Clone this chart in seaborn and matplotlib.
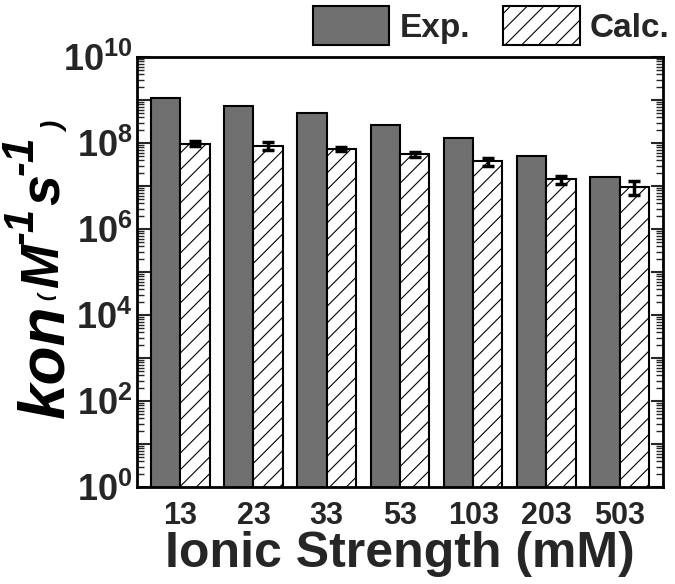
import numpy as np
import pandas as pd
import matplotlib
matplotlib.use("Agg")
import matplotlib.pyplot as plt
import matplotlib.ticker as mticker
import seaborn as sns

# values
ionic_strength = ['13', '23', '33', '53', '103', '203', '503']
exp_kon = [1.15e9, 7.2e8, 5.0e8, 2.7e8, 1.3e8, 5.0e7, 1.65e7]
calc_kon = [9.8e7, 8.7e7, 7.4e7, 5.5e7, 3.8e7, 1.45e7, 9.6e6]
calc_err = [1.2e7, 1.7e7, 8e6, 7.5e6, 8e6, 3e6, 3.4e6]
series = ['Exp.', 'Calc.']

sns.set_theme(style="white")
plt.rcParams['font.family'] = ['Liberation Sans', 'DejaVu Sans']
plt.rcParams['font.weight'] = 'bold'
plt.rcParams['mathtext.fontset'] = 'custom'
plt.rcParams['mathtext.rm'] = 'Liberation Sans:bold'
plt.rcParams['mathtext.bf'] = 'Liberation Sans:bold'
plt.rcParams['mathtext.it'] = 'Liberation Sans:bold:italic'
plt.rcParams['hatch.linewidth'] = 0.8

df = pd.DataFrame({
    'Ionic': ionic_strength * 2,
    'kon': exp_kon + calc_kon,
    'Type': [series[0]] * len(exp_kon) + [series[1]] * len(calc_kon),
})

fig = plt.figure(figsize=(6.75, 5.84), dpi=100)
ax = fig.add_axes([0.203, 0.166, 0.779, 0.736])

sns.barplot(data=df, x='Ionic', y='kon', hue='Type', order=ionic_strength,
            hue_order=series, palette=['#707070', 'white'], errorbar=None,
            edgecolor='black', linewidth=1.5, width=0.8, legend=False, ax=ax)
ax.set_yscale('log')
ax.grid(False, which='both')

for p in ax.containers[1]:
    p.set_hatch('//')

# error bars on calculated values
xs = [p.get_x() + p.get_width() / 2 for p in ax.containers[1]]
ax.errorbar(xs, calc_kon, yerr=calc_err, fmt='none', ecolor='black',
            elinewidth=2.5, capsize=4, capthick=2.5, zorder=5)

ax.set_ylim(1, 1e10)
ax.set_xlim(-0.59, 6.59)

ax.yaxis.set_major_locator(mticker.LogLocator(base=10, numticks=20))
ax.yaxis.set_minor_locator(mticker.LogLocator(base=10, subs=np.arange(2, 10), numticks=20))


def fmt(v, pos):
    e = int(round(np.log10(v)))
    return r'$\mathbf{10^{%d}}$' % e if e % 2 == 0 else ''


ax.yaxis.set_major_formatter(mticker.FuncFormatter(fmt))
ax.yaxis.set_minor_formatter(mticker.NullFormatter())
ax.tick_params(axis='y', which='major', direction='in', length=9, width=1.5,
               left=True, right=True, labelsize=26, pad=3)
ax.tick_params(axis='y', which='minor', direction='in', length=5, width=1.0,
               left=True, right=True)
ax.tick_params(axis='x', bottom=False, labelsize=22, pad=4)
for lab in ax.get_xticklabels():
    lab.set_fontweight('bold')

for s in ax.spines.values():
    s.set_linewidth(2)
    s.set_color('black')

ax.set_xlabel('Ionic Strength (mM)', fontsize=36, fontweight='bold', labelpad=0)
ax.set_ylabel('')

# y label built piece by piece: kon (M-1 s-1), rotated
ykw = dict(rotation=90, rotation_mode='anchor', ha='left', va='baseline',
           fontweight='bold', style='italic', color='black')
prev = fig.text(63 / 675, 1 - 418 / 584, 'kon', fontsize=46, **ykw)
# (text, size, baseline x in px, gap before in points)
pieces = [('(', 15, 52, 3), ('M', 38, 58, 4), ('-1', 30, 33, 0),
          ('s', 40, 60, 1), ('-1', 32, 33, 0), (')', 20, 63, 2)]
for txt, size, base_x, gap in pieces:
    prev = ax.annotate(txt, xy=(base_x, 1.0), xycoords=('figure pixels', prev),
                       xytext=(0, gap), textcoords='offset points',
                       fontsize=size, annotation_clip=False, **ykw)

leg = fig.legend(ax.containers, series, loc='upper right',
                 bbox_to_anchor=(0.997, 0.995), ncol=2, frameon=False,
                 fontsize=24, handlelength=2.3, handleheight=1.4,
                 handletextpad=0.3, columnspacing=1.0, borderpad=0.1,
                 borderaxespad=0)

fig.savefig('out.png', dpi=100)
